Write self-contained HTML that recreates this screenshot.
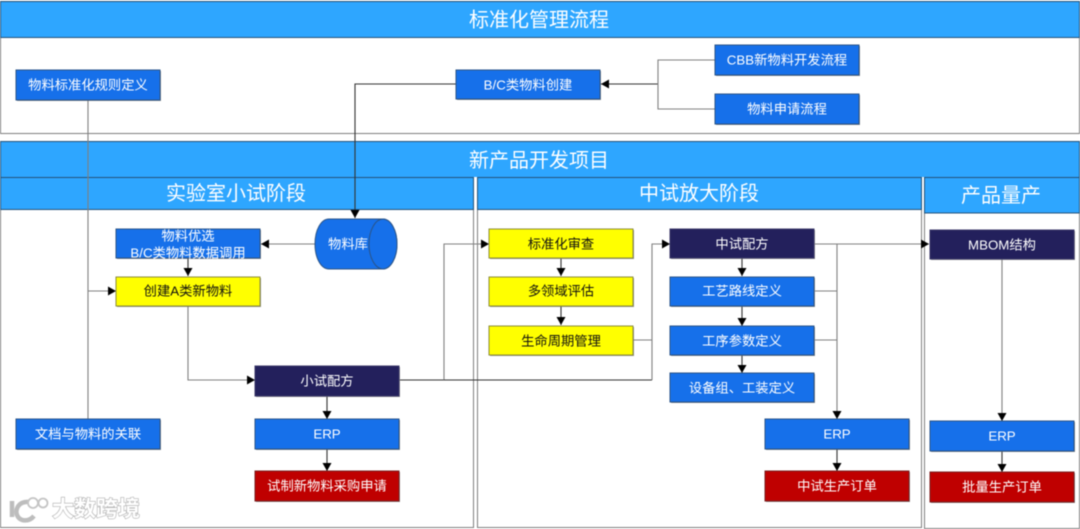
<!DOCTYPE html>
<html lang="zh">
<head>
<meta charset="utf-8">
<title>标准化管理流程</title>
<style>
html,body{margin:0;padding:0;background:#fff;width:1080px;height:529px;overflow:hidden}
svg{display:block;filter:blur(.5px)}
text{font-family:"Liberation Sans","Noto Sans CJK SC",sans-serif;text-anchor:middle;dominant-baseline:central;transform:translateY(1px)}
.h{font-size:20px;fill:#fff}
.t{font-size:13.3px;fill:#fff}
.k{font-size:13.3px;fill:#111}
.hdr{fill:#2ea6ff;stroke:#24527a;stroke-width:1}
.pan{fill:#fff;stroke:#7f7f7f;stroke-width:1}
.b{fill:#1670ea;stroke:#2a5488;stroke-width:1}
.y{fill:#ffff00;stroke:#8d8d3a;stroke-width:1}
.n{fill:#23205c;stroke:#3a3868;stroke-width:1}
.r{fill:#bf0000;stroke:#7a2020;stroke-width:1}
.s{fill:#777;opacity:.8}
.c{fill:none;stroke:#808080;stroke-width:1.1}
.d{fill:none;stroke:#333;stroke-width:1.1}
</style>
</head>
<body>
<svg width="1080" height="529" viewBox="0 0 1080 529" xmlns="http://www.w3.org/2000/svg">
<defs>
<marker id="a" markerUnits="userSpaceOnUse" markerWidth="9" markerHeight="10" refX="8" refY="5" orient="auto"><path d="M0 0.5L8 5L0 9.5Z" fill="#000"/></marker>
</defs>
<rect width="1080" height="529" fill="#fff"/>

<!-- top panel -->
<rect class="pan" x="0.5" y="1.5" width="1079" height="132"/>
<rect class="hdr" x="0.5" y="1.5" width="1079" height="36"/>
<text class="h" x="539" y="19.5">标准化管理流程</text>

<!-- project panel -->
<rect class="pan" x="0.5" y="141.5" width="1079" height="386"/>
<rect class="hdr" x="0.5" y="141.5" width="1079" height="36"/>
<text class="h" x="539" y="160">新产品开发项目</text>

<!-- columns -->
<rect x="473.5" y="177" width="4" height="351" fill="#fff"/>
<rect x="921" y="177" width="3" height="351" fill="#fff"/>
<rect class="pan" x="0.5" y="177.5" width="473" height="350"/>
<rect class="hdr" x="0.5" y="177.5" width="473" height="32"/>
<text class="h" x="236" y="193">实验室小试阶段</text>
<rect class="pan" x="477.5" y="177.5" width="444" height="350"/>
<rect class="hdr" x="477.5" y="177.5" width="444" height="32"/>
<text class="h" x="699" y="193">中试放大阶段</text>
<rect class="pan" x="924.5" y="177.5" width="155" height="351"/>
<rect class="hdr" x="924.5" y="177.5" width="155" height="35.5"/>
<text class="h" x="1001" y="195">产品量产</text>

<!-- connectors -->
<path class="c" d="M88 100V291"/>
<path class="c" d="M88 419V291H116" marker-end="url(#a)"/>
<path class="d" d="M456 84H355V218" marker-end="url(#a)"/>
<path class="d" d="M658 84H601" marker-end="url(#a)"/>
<path class="c" d="M715 60H658V109H715"/>
<path class="c" d="M315 244H261" marker-end="url(#a)"/>
<path class="d" d="M188 258V276" marker-end="url(#a)"/>
<path class="c" d="M188 306V380H255" marker-end="url(#a)"/>
<path class="d" d="M400 380H444"/>
<path class="c" d="M444 380V244H489" marker-end="url(#a)"/>
<path class="d" d="M444 380H652"/>
<path class="c" d="M652 380V244H670" marker-end="url(#a)"/>
<path class="c" d="M633 340H652"/>
<path class="d" d="M327 396V419" marker-end="url(#a)"/>
<path class="d" d="M327 449V471" marker-end="url(#a)"/>
<path class="d" d="M561 258V276" marker-end="url(#a)"/>
<path class="d" d="M561 306V325" marker-end="url(#a)"/>
<path class="d" d="M742 258V276" marker-end="url(#a)"/>
<path class="d" d="M742 306V326" marker-end="url(#a)"/>
<path class="d" d="M742 355V373" marker-end="url(#a)"/>
<path class="c" d="M815 244H929" marker-end="url(#a)"/>
<path class="c" d="M837 244V419" marker-end="url(#a)"/>
<path class="c" d="M815 291H837M815 340H837"/>
<path class="d" d="M837 449V471" marker-end="url(#a)"/>
<path class="c" d="M1002 259V421" marker-end="url(#a)"/>
<path class="d" d="M1002 451V472" marker-end="url(#a)"/>

<!-- shadows -->
<g class="s">
<rect x="17" y="71" width="144" height="30"/><rect x="457" y="71" width="144" height="29"/>
<rect x="716" y="46" width="144" height="30"/><rect x="716" y="95" width="144" height="30"/>
<rect x="117" y="230" width="144" height="29"/><rect x="117" y="278" width="144" height="29"/>
<rect x="17" y="420" width="144" height="30"/><rect x="256" y="367" width="144" height="30"/>
<rect x="256" y="420" width="144" height="30"/><rect x="256" y="472" width="144" height="30"/>
<rect x="490" y="230" width="144" height="29"/><rect x="490" y="278" width="144" height="29"/>
<rect x="490" y="327" width="144" height="29"/><rect x="671" y="230" width="144" height="29"/>
<rect x="671" y="278" width="144" height="29"/><rect x="671" y="327" width="144" height="29"/>
<rect x="671" y="374" width="144" height="29"/><rect x="766" y="420" width="144" height="30"/>
<rect x="766" y="472" width="144" height="30"/><rect x="931" y="231" width="144" height="29"/>
<rect x="931" y="422" width="144" height="30"/><rect x="931" y="473" width="144" height="30"/>
</g>

<!-- top boxes -->
<rect class="b" x="16" y="70" width="144" height="30"/><text class="t" x="88" y="84">物料标准化规则定义</text>
<rect class="b" x="456" y="70" width="144" height="29"/><text class="t" x="528" y="84">B/C类物料创建</text>
<rect class="b" x="715" y="45" width="144" height="30"/><text class="t" x="787" y="59">CBB新物料开发流程</text>
<rect class="b" x="715" y="94" width="144" height="30"/><text class="t" x="787" y="108">物料申请流程</text>

<!-- column 1 -->
<rect class="b" x="116" y="229" width="144" height="29"/>
<text class="t" x="188" y="235">物料优选</text><text class="t" x="188" y="252">B/C类物料数据调用</text>
<rect class="y" x="116" y="277" width="144" height="29"/><text class="k" x="188" y="290">创建A类新物料</text>
<rect class="b" x="16" y="419" width="144" height="30"/><text class="t" x="88" y="433">文档与物料的关联</text>
<rect class="n" x="255" y="366" width="144" height="30"/><text class="t" x="327" y="380">小试配方</text>
<rect class="b" x="255" y="419" width="144" height="30"/><text class="t" x="327" y="433">ERP</text>
<rect class="r" x="255" y="471" width="144" height="30"/><text class="t" x="327" y="485">试制新物料采购申请</text>

<!-- cylinder -->
<path d="M329 219H383A14 25 0 0 1 383 269H329C321 269 315 258 315 244C315 230 321 219 329 219Z" fill="#1670ea" stroke="#2a5488"/>
<ellipse cx="383" cy="244" rx="14" ry="25" fill="#1670ea" stroke="#2a5488"/>
<text class="t" x="348" y="243">物料库</text>

<!-- column 2 -->
<rect class="y" x="489" y="229" width="144" height="29"/><text class="k" x="561" y="243">标准化审查</text>
<rect class="y" x="489" y="277" width="144" height="29"/><text class="k" x="561" y="290">多领域评估</text>
<rect class="y" x="489" y="326" width="144" height="29"/><text class="k" x="561" y="340">生命周期管理</text>
<rect class="n" x="670" y="229" width="144" height="29"/><text class="t" x="742" y="243">中试配方</text>
<rect class="b" x="670" y="277" width="144" height="29"/><text class="t" x="742" y="290">工艺路线定义</text>
<rect class="b" x="670" y="326" width="144" height="29"/><text class="t" x="742" y="340">工序参数定义</text>
<rect class="b" x="670" y="373" width="144" height="29"/><text class="t" x="742" y="387">设备组、工装定义</text>
<rect class="b" x="765" y="419" width="144" height="30"/><text class="t" x="837" y="433">ERP</text>
<rect class="r" x="765" y="471" width="144" height="30"/><text class="t" x="837" y="485">中试生产订单</text>

<!-- column 3 -->
<rect class="n" x="930" y="230" width="144" height="29"/><text class="t" x="1002" y="244">MBOM结构</text>
<rect class="b" x="930" y="421" width="144" height="30"/><text class="t" x="1002" y="435">ERP</text>
<rect class="r" x="930" y="472" width="144" height="30"/><text class="t" x="1002" y="486">批量生产订单</text>

<!-- watermark -->
<g fill="none" stroke="#bdbdbd" stroke-width="4.5">
<path d="M12 501V517"/><path d="M29 502C18 501 15 510 17 515C20 522 29 522 34 516"/>
</g>
<g fill="none" stroke="#c4c4c4" stroke-width="1.8">
<circle cx="33" cy="503" r="5"/><circle cx="43" cy="503" r="4.5"/>
</g>
<text x="96" y="508" style="font-size:22px;font-weight:700;fill:#fff;stroke:#b0b0b0;stroke-width:1.2px;paint-order:stroke">大数跨境</text>
</svg>
</body>
</html>
